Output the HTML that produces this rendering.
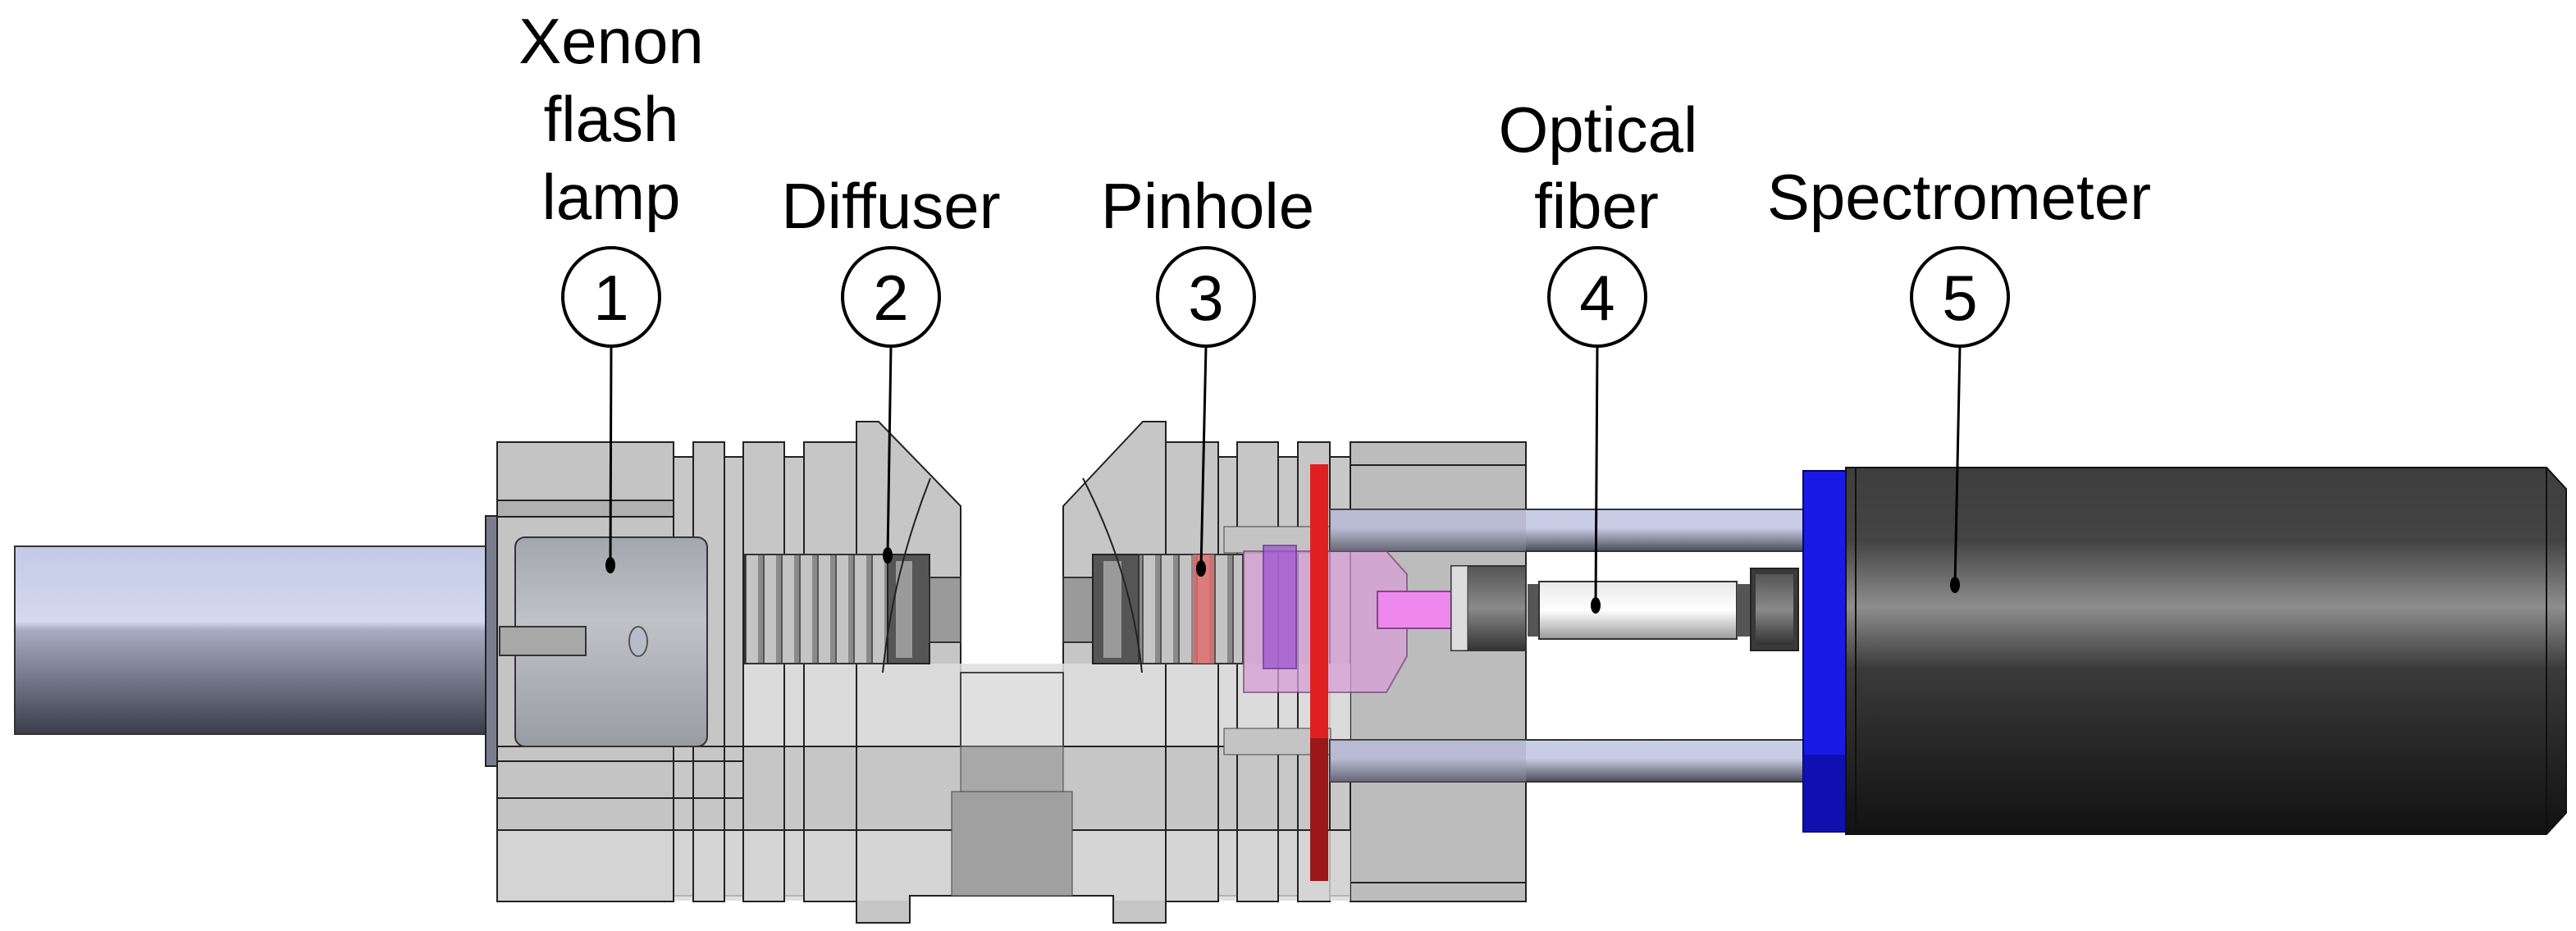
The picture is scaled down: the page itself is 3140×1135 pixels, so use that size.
<!DOCTYPE html>
<html><head><meta charset="utf-8"><style>html,body{margin:0;padding:0;background:#fff}svg{display:block}</style></head><body>
<svg width="3140" height="1135" viewBox="0 0 3140 1135" xmlns="http://www.w3.org/2000/svg" font-family="'Liberation Sans', Arial, sans-serif">
<defs>
<linearGradient id="lamp" x1="0" y1="0" x2="0" y2="1"><stop offset="0" stop-color="#c4cae6"/><stop offset="0.4" stop-color="#d4d9f0"/><stop offset="0.45" stop-color="#a6abc2"/><stop offset="1" stop-color="#3a3d48"/></linearGradient>
<linearGradient id="rod" x1="0" y1="0" x2="0" y2="1"><stop offset="0" stop-color="#c8cde8"/><stop offset="0.45" stop-color="#c8cce4"/><stop offset="1" stop-color="#4a4d58"/></linearGradient>
<linearGradient id="spec" x1="0" y1="0" x2="0" y2="1"><stop offset="0" stop-color="#3e3e3e"/><stop offset="0.2" stop-color="#444"/><stop offset="0.38" stop-color="#8e8e8e"/><stop offset="0.55" stop-color="#3a3a3a"/><stop offset="1" stop-color="#111"/></linearGradient>
<linearGradient id="fib" x1="0" y1="0" x2="0" y2="1"><stop offset="0" stop-color="#e8e8e8"/><stop offset="0.5" stop-color="#fff"/><stop offset="1" stop-color="#9a9a9a"/></linearGradient>
<linearGradient id="nut" x1="0" y1="0" x2="0" y2="1"><stop offset="0" stop-color="#555"/><stop offset="0.5" stop-color="#8a8a8a"/><stop offset="1" stop-color="#333"/></linearGradient>
<linearGradient id="body" x1="0" y1="0" x2="0" y2="1"><stop offset="0" stop-color="#a4a6ae"/><stop offset="0.4" stop-color="#c0c2c8"/><stop offset="1" stop-color="#9a9ca4"/></linearGradient>
<pattern id="thr" width="22" height="10" patternUnits="userSpaceOnUse"><rect width="22" height="10" fill="#c4c4c4"/><rect width="6" height="10" fill="#8a8a8a"/><rect x="6" width="2" height="10" fill="#555"/></pattern>
</defs>

<rect x="18" y="666" width="574" height="229" fill="url(#lamp)" stroke="#333" stroke-width="2"/>
<rect x="592" y="629" width="14" height="305" fill="#7a7d90" stroke="#222" stroke-width="2"/>

<g stroke="#222" stroke-width="2">
<rect x="606" y="539" width="215" height="560" fill="#c4c4c4"/>
<rect x="606" y="610" width="300" height="20" fill="#b0b0b0"/>
<rect x="821" y="557" width="24" height="535" fill="#c8c8c8"/>
<rect x="845" y="539" width="38" height="560" fill="#c6c6c6"/>
<rect x="883" y="557" width="23" height="535" fill="#c8c8c8"/>
<rect x="906" y="539" width="50" height="560" fill="#c6c6c6"/>
<rect x="956" y="557" width="24" height="535" fill="#c8c8c8"/>
<rect x="980" y="539" width="64" height="560" fill="#c6c6c6"/>
<path d="M1044 514 L1071 514 L1171 617 L1171 820 L1296 820 L1296 617 L1393 514 L1421 514 L1421 1125 L1357 1125 L1357 1092 L1109 1092 L1109 1125 L1044 1125 Z" fill="#c6c6c6"/>
<rect x="1421" y="539" width="64" height="560" fill="#c6c6c6"/>
<rect x="1485" y="557" width="23" height="535" fill="#c8c8c8"/>
<rect x="1508" y="539" width="50" height="560" fill="#c6c6c6"/>
<rect x="1558" y="557" width="24" height="535" fill="#c8c8c8"/>
<rect x="1582" y="539" width="39" height="560" fill="#c6c6c6"/>
<rect x="1621" y="557" width="25" height="535" fill="#c8c8c8"/>
<rect x="1646" y="539" width="214" height="560" fill="#bcbcbc"/>
<line x1="1646" y1="567" x2="1860" y2="567"/>
<line x1="1646" y1="1076" x2="1860" y2="1076"/>
</g>
<rect x="907" y="809" width="739" height="100" fill="#dedede" opacity="0.85"/>
<rect x="607" y="1013" width="1039" height="78" fill="#d8d8d8" opacity="0.8"/>
<rect x="607" y="1091" width="500" height="7" fill="#d8d8d8" opacity="0.8"/>
<rect x="1359" y="1091" width="287" height="7" fill="#d8d8d8" opacity="0.8"/>
<g stroke="#222" stroke-width="2" fill="none">
<line x1="606" y1="910" x2="1860" y2="910"/>
<line x1="606" y1="1012" x2="1646" y2="1012"/>
<line x1="606" y1="928" x2="906" y2="928"/>
<line x1="606" y1="973" x2="906" y2="973"/>
<line x1="821" y1="539" x2="821" y2="1099"/><line x1="845" y1="539" x2="845" y2="1099"/>
<line x1="883" y1="539" x2="883" y2="1099"/><line x1="906" y1="539" x2="906" y2="1099"/>
<line x1="956" y1="539" x2="956" y2="1099"/><line x1="980" y1="539" x2="980" y2="1099"/>
<line x1="1044" y1="539" x2="1044" y2="1099"/><line x1="1421" y1="539" x2="1421" y2="1099"/>
<line x1="1485" y1="539" x2="1485" y2="1099"/><line x1="1508" y1="539" x2="1508" y2="1099"/>
<line x1="1558" y1="539" x2="1558" y2="1099"/><line x1="1582" y1="539" x2="1582" y2="1099"/>
<line x1="1109" y1="1092" x2="1357" y2="1092"/>
</g>
<rect x="1171" y="820" width="125" height="90" fill="#e0e0e0" stroke="#444" stroke-width="2"/>
<rect x="1171" y="910" width="125" height="55" fill="#a8a8a8" stroke="#444" stroke-width="1"/>
<rect x="1160" y="965" width="147" height="127" fill="#a0a0a0" stroke="#444" stroke-width="1"/>
<rect x="628" y="655" width="234" height="255" rx="12" fill="url(#body)" stroke="#333" stroke-width="2"/>
<rect x="609" y="764" width="105" height="35" fill="#a8a8a8" stroke="#333" stroke-width="2"/>
<ellipse cx="778" cy="782" rx="11" ry="18" fill="#b8bcc8" stroke="#555" stroke-width="2"/>
<rect x="908" y="676" width="174" height="133" fill="url(#thr)" stroke="#333" stroke-width="2"/>
<rect x="1082" y="676" width="51" height="133" fill="#555" stroke="#222" stroke-width="2"/>
<rect x="1092" y="684" width="20" height="118" fill="#9a9a9a"/>
<rect x="1133" y="704" width="38" height="79" fill="#9a9a9a" stroke="#333" stroke-width="2"/>
<rect x="1296" y="704" width="36" height="79" fill="#9a9a9a" stroke="#333" stroke-width="2"/>
<rect x="1332" y="676" width="56" height="133" fill="#555" stroke="#222" stroke-width="2"/>
<rect x="1345" y="684" width="22" height="118" fill="#9a9a9a"/>
<rect x="1388" y="676" width="127" height="133" fill="url(#thr)" stroke="#333" stroke-width="2"/>
<rect x="1454" y="676" width="26" height="133" fill="#e06a6a" opacity="0.8"/>
<path d="M1134 583 Q1088 700 1076 820" fill="none" stroke="#222" stroke-width="2"/>
<path d="M1320 583 Q1380 700 1392 820" fill="none" stroke="#222" stroke-width="2"/>
<rect x="1492" y="642" width="130" height="32" fill="#c4c4c4" stroke="#444" stroke-width="1"/>
<rect x="1492" y="888" width="130" height="32" fill="#c4c4c4" stroke="#444" stroke-width="1"/>
<rect x="1621" y="621" width="577" height="51" fill="url(#rod)" stroke="#333" stroke-width="2"/>
<rect x="1621" y="902" width="577" height="51" fill="url(#rod)" stroke="#333" stroke-width="2"/>
<rect x="1621" y="621" width="239" height="51" fill="#9a9cae" opacity="0.35"/>
<rect x="1621" y="902" width="239" height="51" fill="#9a9cae" opacity="0.35"/>
<path d="M1516 672 L1690 672 L1715 700 L1715 800 L1690 844 L1516 844 Z" fill="#d8a0d8" opacity="0.75" stroke="#7a4a7a" stroke-width="2"/>
<rect x="1540" y="665" width="40" height="150" fill="#9a50d0" opacity="0.7" stroke="#5a2a8a" stroke-width="2"/>
<rect x="1679" y="721" width="90" height="45" fill="#ee88ee" stroke="#884488" stroke-width="2"/>
<rect x="1597" y="566" width="22" height="508" fill="#e02020"/>
<rect x="1597" y="900" width="22" height="174" fill="#9a1818"/>
<rect x="1769" y="690" width="91" height="103" fill="url(#nut)" stroke="#333" stroke-width="2"/>
<rect x="1769" y="690" width="20" height="103" fill="#ddd" stroke="#333" stroke-width="1"/>
<rect x="1862" y="712" width="14" height="64" fill="#555"/>
<rect x="1876" y="709" width="241" height="70" fill="url(#fib)" stroke="#333" stroke-width="2"/>
<rect x="2117" y="712" width="17" height="64" fill="#555"/>
<rect x="2134" y="693" width="58" height="100" fill="#3a3a3a" stroke="#222" stroke-width="2"/>
<rect x="2140" y="700" width="46" height="86" fill="url(#nut)"/>
<rect x="2198" y="574" width="52" height="440" fill="#1a1ae6" stroke="#000066" stroke-width="2"/>
<rect x="2198" y="920" width="52" height="94" fill="#1010b0"/>
<path d="M2250 570 L3104 570 L3128 596 L3128 991 L3104 1017 L2250 1017 Z" fill="url(#spec)" stroke="#111" stroke-width="2"/>
<line x1="2262" y1="570" x2="2262" y2="1017" stroke="#111" stroke-width="2"/>
<line x1="3104" y1="570" x2="3104" y2="1017" stroke="#111" stroke-width="2"/>

<g font-size="78" fill="#000" text-anchor="middle">
<text x="745" y="77">Xenon</text>
<text x="745" y="172">flash</text>
<text x="745" y="267">lamp</text>
<text x="1086" y="278">Diffuser</text>
<text x="1472" y="278">Pinhole</text>
<text x="1948" y="185">Optical</text>
<text x="1946" y="278">fiber</text>
<text x="2388" y="267">Spectrometer</text>
</g>
<g fill="none" stroke="#000" stroke-width="4">
<ellipse cx="745" cy="362" rx="59" ry="60"/>
<ellipse cx="1086" cy="362" rx="59" ry="60"/>
<ellipse cx="1470" cy="362" rx="59" ry="60"/>
<ellipse cx="1947" cy="362" rx="59" ry="60"/>
<ellipse cx="2389" cy="362" rx="59" ry="60"/>
</g>
<g font-size="78" fill="#000" text-anchor="middle">
<text x="745" y="390">1</text><text x="1086" y="390">2</text><text x="1470" y="390">3</text><text x="1947" y="390">4</text><text x="2389" y="390">5</text>
</g>
<g stroke="#000" stroke-width="3">
<line x1="745" y1="422" x2="744" y2="689"/>
<line x1="1086" y1="422" x2="1082" y2="677"/>
<line x1="1470" y1="422" x2="1464" y2="693"/>
<line x1="1947" y1="422" x2="1945" y2="738"/>
<line x1="2389" y1="422" x2="2383" y2="713"/>
</g>
<g fill="#000">
<ellipse cx="744" cy="689" rx="6" ry="10"/>
<ellipse cx="1082" cy="677" rx="6" ry="10"/>
<ellipse cx="1464" cy="693" rx="6" ry="10"/>
<ellipse cx="1945" cy="738" rx="6" ry="10"/>
<ellipse cx="2383" cy="713" rx="6" ry="10"/>
</g>
</svg>
</body></html>
